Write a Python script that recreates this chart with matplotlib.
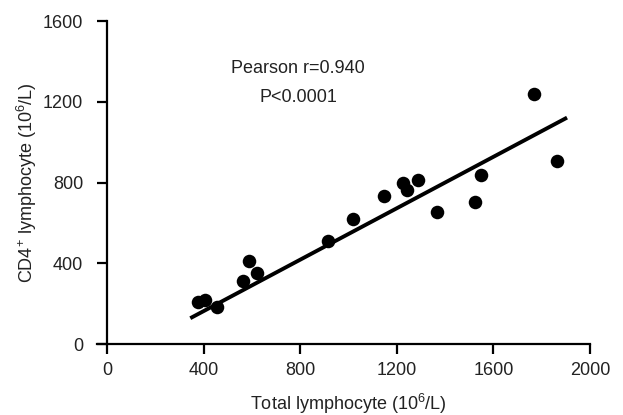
import matplotlib
matplotlib.use("Agg")
import matplotlib.pyplot as plt

plt.rcParams['font.family'] = ['Liberation Sans', 'DejaVu Sans']
plt.rcParams['mathtext.fontset'] = 'custom'
plt.rcParams['mathtext.rm'] = 'Liberation Sans'

# data
total_lymph = [375, 405, 455, 563, 590, 621, 915, 1019, 1147, 1226, 1242, 1288, 1366, 1524, 1549, 1768, 1863]
cd4_lymph   = [208, 218, 182, 312, 412, 352, 512, 622, 733, 797, 762, 815, 654, 703, 837, 1238, 908]
fit_x = [345, 1905]
fit_y = [128, 1122]
x_ticks = [0, 400, 800, 1200, 1600, 2000]
y_ticks = [0, 400, 800, 1200, 1600]

fig = plt.figure(figsize=(6.23, 4.15), dpi=100)
ax = fig.add_axes([0.1717, 0.171, 0.7753, 0.778])

ax.plot(fit_x, fit_y, color='black', lw=2.8, solid_capstyle='butt', zorder=2)
ax.scatter(total_lymph, cd4_lymph, s=95, color='black', zorder=3, linewidths=0)

ax.set_xlim(0, 2000)
ax.set_ylim(0, 1600)
ax.set_xticks(x_ticks)
ax.set_yticks(y_ticks)

for s in ['top', 'right']:
    ax.spines[s].set_visible(False)
for s in ['left', 'bottom']:
    ax.spines[s].set_linewidth(1.6)
    ax.spines[s].set_color('black')
ax.spines['bottom'].set_bounds(-40, 2000)
ax.tick_params(direction='out', length=7, width=1.6, labelsize=13, labelcolor='#222222')
ax.tick_params(axis='y', pad=10)
ax.tick_params(axis='x', pad=6)

ax.set_xlabel('Total lymphocyte (10$^{6}$/L)', fontsize=13, color='#222222', labelpad=9)
ax.set_ylabel('CD4$^{{+}}$ lymphocyte (10$^{6}$/L)', fontsize=13, color='#222222', labelpad=3)

ax.text(791, 1367, 'Pearson r=0.940', ha='center', va='center', fontsize=13, color='#222222')
ax.text(791, 1223, 'P<0.0001', ha='center', va='center', fontsize=13, color='#222222')

fig.savefig('out.png', dpi=100)
